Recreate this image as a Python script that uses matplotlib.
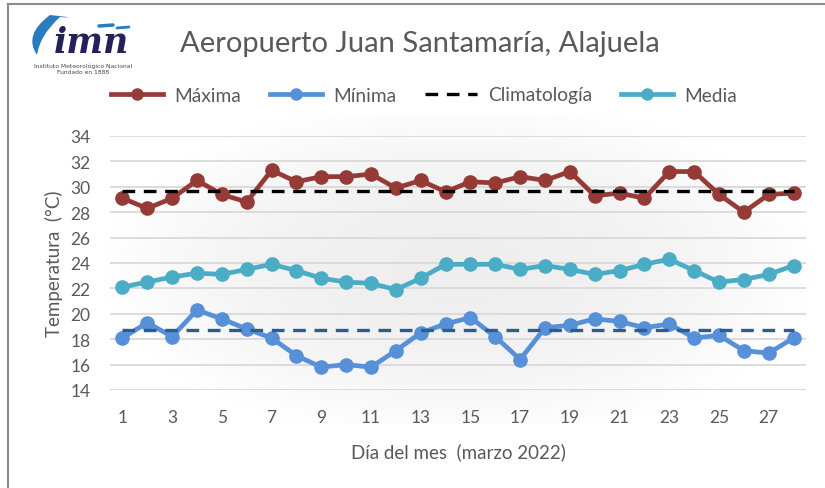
import numpy as np
import matplotlib
matplotlib.use('Agg')
import matplotlib.pyplot as plt
from matplotlib.path import Path
from matplotlib.patches import PathPatch
from matplotlib.lines import Line2D

plt.rcParams['font.family'] = ['Lato', 'DejaVu Sans']

# Datos diarios (marzo 2022)
dias = list(range(1, 29))
maxima = [29.1, 28.3, 29.1, 30.5, 29.4, 28.8, 31.3, 30.4, 30.8, 30.8,
          31.0, 29.9, 30.5, 29.6, 30.4, 30.3, 30.8, 30.5, 31.2, 29.3,
          29.5, 29.1, 31.2, 31.2, 29.4, 28.0, 29.4, 29.5]
minima = [18.1, 19.3, 18.2, 20.3, 19.6, 18.8, 18.1, 16.7, 15.8, 16.0,
          15.8, 17.1, 18.5, 19.2, 19.7, 18.2, 16.4, 18.9, 19.1, 19.6,
          19.4, 18.9, 19.2, 18.1, 18.3, 17.1, 16.9, 18.1]
media = [22.1, 22.5, 22.9, 23.2, 23.1, 23.5, 23.9, 23.4, 22.8, 22.5,
         22.4, 21.9, 22.8, 23.9, 23.9, 23.9, 23.5, 23.8, 23.5, 23.1,
         23.4, 23.9, 24.3, 23.4, 22.5, 22.7, 23.1, 23.8]
clim_max = 29.7
clim_min = 18.7
yticks = list(range(14, 35, 2))
xticks = list(range(1, 29, 2))

TXT = '#595959'
C_MAX = '#963a36'
C_MIN = '#5690d8'
C_MED = '#4bacc6'
C_CMIN = '#2f5c8f'

W, H = 825, 489
fig = plt.figure(figsize=(W / 100, H / 100), dpi=100)
fig.patch.set_facecolor('white')

# frame lines of the original picture
fig.add_artist(Line2D([8 / W, 8 / W], [0, 1 - 5 / H], color='#8c8c8c', lw=1.5))
fig.add_artist(Line2D([8 / W, 1], [1 - 5 / H, 1 - 5 / H], color='#8c8c8c', lw=1.5))

# soft radial background behind plot
bg = fig.add_axes([100 / W, 1 - 425 / H, 715 / W, 310 / H])
gx, gy = np.meshgrid(np.linspace(-1, 1, 300), np.linspace(-1, 1, 150))
r = np.clip(np.sqrt((gx / 1.0) ** 2 + (gy / 1.1) ** 2), 0, 1)
shade = 0.935 + 0.065 * r ** 2.0
bg.imshow(np.dstack([shade, shade, shade]), aspect='auto', extent=[0, 1, 0, 1])
bg.axis('off')

ax = fig.add_axes([110 / W, 1 - 391 / H, 696 / W, 254 / H])
ax.set_facecolor('none')
ax.set_xlim(0.5, 28.5)
ax.set_ylim(14, 34)
ax.set_yticks(yticks)
ax.set_xticks(xticks)
ax.grid(axis='y', color='#d9d9d9', lw=1.3)
ax.set_axisbelow(True)
for s in ax.spines.values():
    s.set_visible(False)
ax.tick_params(length=0, labelsize=12.5, colors=TXT)
ax.tick_params(axis='y', pad=14)
ax.tick_params(axis='x', pad=14)

ax.plot(dias, maxima, color=C_MAX, lw=3.4, marker='o', ms=9.5, zorder=4)
ax.plot(dias, minima, color=C_MIN, lw=3.4, marker='o', ms=9.5, zorder=4)
ax.plot(dias, media, color=C_MED, lw=3.4, marker='o', ms=9.5, zorder=4)
ax.plot(dias, [clim_max] * len(dias), color='black', lw=2.4, ls=(0, (3.8, 2.6)), zorder=5)
ax.plot(dias, [clim_min] * len(dias), color=C_CMIN, lw=2.4, ls=(0, (3.8, 2.6)), zorder=5)

ax.set_ylabel('Temperatura  (°C)', fontsize=13.5, color=TXT, labelpad=5)
ax.set_xlabel('Día del mes  (marzo 2022)', fontsize=13.5, color=TXT, labelpad=12)

fig.text(420 / W, 1 - 44 / H, 'Aeropuerto Juan Santamaría, Alajuela',
         fontsize=21, color=TXT, ha='center', va='center')

handles = [
    Line2D([], [], color=C_MAX, lw=3.4, marker='o', ms=8),
    Line2D([], [], color=C_MIN, lw=3.4, marker='o', ms=8),
    Line2D([], [], color='black', lw=2.4, ls=(0, (3.8, 2.6))),
    Line2D([], [], color=C_MED, lw=3.4, marker='o', ms=8),
]
leg = fig.legend(handles, ['Máxima', 'Mínima', 'Climatología', 'Media'],
                 loc='center', bbox_to_anchor=(424 / W, 1 - 96 / H), ncol=4,
                 frameon=False, fontsize=13.8, handlelength=2.7, numpoints=1,
                 handletextpad=0.6, columnspacing=1.5)
for t in leg.get_texts():
    t.set_color(TXT)

# logo IMN
lg = fig.add_axes([15 / W, 1 - 82 / H, 130 / W, 72 / H])
lg.set_xlim(0, 130)
lg.set_ylim(72, 0)
lg.axis('off')
swoosh = Path([(22, 46), (8, 26), (35, 6), (72, 10), (45, 8), (25, 26), (22, 46)],
              [Path.MOVETO, Path.CURVE3, Path.CURVE3, Path.CURVE3, Path.CURVE3, Path.CURVE3, Path.CURVE3])
lg.add_patch(PathPatch(swoosh, facecolor='#2b7bbf', edgecolor='none'))
lg.plot([84, 98], [17, 16], color='#2b7bbf', lw=2.5, solid_capstyle='round')
lg.plot([102, 114], [19, 18], color='#2b7bbf', lw=2.0, solid_capstyle='round')
lg.text(76, 33, 'imn', fontsize=25, fontstyle='italic', fontweight='bold',
        family=['DejaVu Serif'], color='#23205e', ha='center', va='center')
lg.text(68, 56, 'Instituto Meteorológico Nacional', fontsize=4.3, color='#444444',
        ha='center', va='center', family=['DejaVu Sans'])
lg.text(68, 63, 'Fundado en 1888', fontsize=4.3, color='#444444',
        ha='center', va='center', family=['DejaVu Sans'])

fig.savefig('out.png', dpi=100)
